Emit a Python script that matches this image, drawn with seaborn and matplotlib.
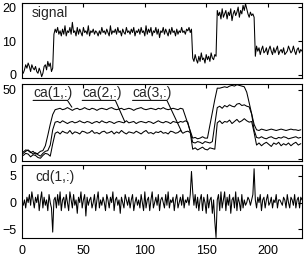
import numpy as np
import seaborn as sns
from matplotlib import pyplot as plt

# signal, one value per sample (samples 1..228)
signal = [
    0.5, 1.5, 3.0, 2.0, 3.5, 2.5, 1.0, 3.0, 2.0, 1.5, 2.5, 1.0, 0.5, 2.0, 1.0, -0.5, 0.5, 2.5, 3.0, 1.5,
    4.0, 2.5, 3.5, 1.0, 2.0,
    12.0, 13.5, 12.5, 14.0, 12.0, 13.0, 11.5, 13.5, 12.0, 14.5,
    11.5, 13.0, 12.5, 14.0, 12.0, 15.5, 12.5, 13.0, 11.5, 14.0,
    12.0, 13.5, 12.5, 11.5, 14.0, 12.5, 13.0, 12.0, 14.5, 11.5,
    13.0, 12.5, 13.5, 12.0, 13.0, 12.5, 11.5, 13.0, 12.0, 14.0,
    12.5, 13.0, 12.0, 13.5, 12.5, 11.5, 14.5, 12.0, 13.0, 12.5,
    13.5, 12.0, 14.0, 12.5, 13.0, 11.5, 13.5, 12.5, 12.0, 14.0,
    12.5, 13.0, 12.0, 13.5, 12.5, 14.0, 11.5, 13.0, 12.5, 13.5,
    12.0, 14.0, 12.5, 13.0, 11.5, 14.5, 12.0, 13.5, 12.5, 14.0,
    11.5, 13.0, 12.5, 14.0, 12.0, 13.5, 11.0, 13.0, 12.5, 14.0,
    12.0, 13.5, 12.5, 11.5, 13.5, 12.0, 14.0, 12.5, 13.0, 11.5,
    13.5, 12.0, 13.0, 12.5, 14.0, 12.5, 13.0, 12.0, 13.5, 13.0,
    14.0, 12.5, 13.5,
    5.0, 4.0, 6.0, 4.5, 3.5, 5.5, 4.0, 6.5, 4.5, 5.0, 3.5, 6.0, 4.5, 5.5, 4.0, 6.5, 5.0, 4.5, 6.0, 5.5,
    19.0, 17.5, 18.5, 16.5, 19.5, 17.0, 18.0, 19.0, 16.5, 18.5, 17.5, 19.5, 16.0, 18.0, 19.0, 17.5,
    18.5, 20.0, 17.0, 19.0, 18.0, 20.5, 19.0, 21.0, 19.5, 18.0, 17.0, 18.5, 17.5, 18.0, 17.0,
    5.5, 8.5, 7.0, 8.0, 6.0, 7.5, 8.5, 6.5, 7.0, 8.0, 6.0, 7.5, 8.5, 7.0, 6.0, 8.0, 6.5, 7.5, 8.5, 6.0,
    7.0, 7.5, 6.5, 8.0, 6.0, 6.5, 7.0, 8.5, 7.5, 6.5, 7.0, 8.5, 7.0, 6.0, 7.5, 8.0, 6.5, 7.5, 7.0,
]

# approximations, read every second sample (samples 1, 3, ..., 227)
ca1 = [
    2.5, 4.0, 3.5, 1.5, 3.0, 2.5, 1.0, 0.5, 2.5, 4.0, 3.5, 2.0,
    10.9,
    18.5, 19.5, 18.0, 20.0, 19.0, 18.5, 20.5, 18.0, 19.5, 19.0,
    18.0, 20.0, 19.5, 18.5, 19.0, 20.5, 18.5, 19.0, 18.0, 19.5,
    20.0, 18.5, 19.0, 20.0, 18.0, 19.5, 18.5, 20.5, 19.0, 18.0,
    19.5, 19.0, 18.5, 20.0, 19.0, 18.0, 19.5, 20.5, 18.5, 19.0,
    18.0, 19.5, 19.0, 20.0, 18.5, 19.0, 18.0, 20.0, 19.5, 18.5,
    19.0, 20.5, 18.5, 19.5, 20.0, 19.0,
    7.0, 8.0, 6.5, 7.5, 8.5, 7.0, 6.5, 8.0, 7.5, 7.0,
    26.0, 27.5, 25.5, 27.0, 26.5, 28.0, 25.5, 27.0, 28.5, 26.5, 27.5, 29.0, 27.5, 26.5, 27.0,
    19.0,
    10.0, 11.5, 9.5, 11.0, 12.0, 10.5, 9.0, 11.5, 10.5, 12.0, 9.5, 11.0, 10.0, 11.5, 9.5, 11.0, 12.0, 10.0, 11.0,
]
ca2 = [
    4.0, 5.5, 6.5, 5.0, 3.5, 4.5, 3.0, 2.0, 4.0, 5.5, 6.0,
    10.0, 21.0,
    26.5, 27.0, 26.0, 27.5, 26.5, 25.5, 26.5, 27.0, 26.0, 26.5,
    27.5, 26.5, 26.0, 27.0, 26.5, 25.5, 26.5, 27.0, 26.0, 27.5,
    26.5, 26.0, 27.0, 26.5, 25.5, 26.5, 27.0, 26.5, 26.0, 27.5,
    26.0, 26.5, 27.0, 25.5, 26.5, 27.0, 26.5, 26.0, 27.0, 26.5,
    25.5, 26.5, 27.5, 26.5, 26.0, 27.0, 26.5, 25.5, 27.0, 26.5,
    26.0, 27.0, 26.5, 27.5, 26.5,
    19.3,
    12.0, 11.5, 12.5, 12.0, 11.0, 12.5, 12.0, 11.5, 12.5,
    25.0,
    37.0, 38.0, 36.5, 38.5, 37.5, 39.0, 38.0, 37.5, 39.5, 40.0, 38.5, 39.0, 38.0, 37.5,
    32.3, 20.8,
    15.5, 15.0, 16.0, 15.0, 14.5, 15.5, 16.0, 15.0, 14.5, 15.5, 15.0, 16.0, 15.5, 14.5, 15.0, 15.5, 16.0, 15.0, 15.5,
]
ca3 = [
    5.0, 6.5, 6.0, 4.5, 5.5, 3.5, 4.0, 5.5, 6.0,
    9.5, 17.0, 25.0, 32.0, 35.5,
    36.0, 36.5, 35.5, 36.0, 37.0, 36.0, 35.0, 36.0, 36.5, 35.5,
    36.0, 37.0, 36.0, 35.5, 36.5, 36.0, 35.0, 36.0, 36.5, 36.0,
    35.5, 36.5, 37.0, 36.0, 35.5, 36.0, 36.5, 35.5, 36.0, 36.5,
    36.0, 35.0, 36.0, 36.5, 37.0, 36.0, 35.5, 36.0, 36.5, 36.0,
    35.5, 36.5, 36.0, 37.0, 36.0, 35.5, 36.0, 36.5, 36.0, 35.5,
    36.5, 36.0,
    30.8, 25.5, 20.3, 15.0,
    15.5, 14.5, 15.0, 16.0, 15.0,
    15.0, 24.3, 33.5, 42.8, 51.0,
    51.0, 51.5, 52.0, 51.5, 52.5, 53.0, 52.5, 53.5, 53.0, 52.5, 52.0,
    48.1, 40.4, 32.6, 24.9,
    21.0, 20.5, 21.5, 21.0, 20.5, 21.0, 21.5, 21.0, 20.5, 21.0, 21.5, 21.0, 20.5, 21.0, 21.5, 21.0, 21.0, 20.5, 21.0,
]

# level 1 detail, one value per sample
cd1 = [
    -0.5, 0.5, -1.0, 1.0, 0.0, 1.5, -0.5, 2.0, 0.5, -1.0, 1.0, 0.0,
    1.5, -1.5, 0.5, 2.0, -1.0, 1.0, -0.5, 0.5, -1.5, 1.5, 0.0, -1.0,
    -5.5, 0.5, 1.0, -1.0, 1.5, -0.5, 2.0, -1.5, 0.5, 1.0, -1.0, 1.5,
    0.0, -1.5, 2.0, 0.5, -1.0, 1.5, -0.5, 0.5, -2.0, 1.0, 0.0, 2.0,
    -1.0, 0.5, 1.5, -2.5, 1.0, -0.5, 0.5, 1.0, -1.0, 0.0, 1.5, -1.5,
    0.5, 2.0, -1.0, 0.5, -0.5, 1.0, 0.0, -1.5, 1.5, 0.5, -1.0, 1.0,
    0.0, 2.0, -1.5, 0.5, 1.0, -0.5, 0.5, -2.0, 1.0, 0.0, -1.0, 1.5,
    0.5, -0.5, 1.0, -1.0, 0.5, 1.5, -1.5, 0.0, 1.0, -0.5, 0.5, -1.0,
    1.5, 0.0, -1.5, 2.0, -1.0, 0.5, 1.0, -1.5, 0.5, 2.0, -1.0, 0.0,
    1.0, -0.5, 1.5, -1.5, 0.5, 1.0, 0.0, -1.0, 1.5, -0.5, 2.0, -1.0,
    0.5, 0.0, 1.0, -1.5, 0.5, 1.5, -1.0, 0.0, 1.0, -0.5, 1.5, -1.0,
    0.5, 0.0, 1.0, -0.5, 1.5, 5.8, 2.0, -0.5, 1.5, -1.0, 1.0, -1.5,
    0.5, 1.5, -1.5, 1.0, 0.0, -2.0, 1.5, -1.0, 0.5, 1.0, -2.0, 0.5,
    -3.5, -6.5, 0.5, 1.5, -1.5, 2.0, -1.0, 0.5, 2.0, -1.5, 1.0, -0.5,
    1.5, -2.0, 0.5, 1.0, -1.0, 2.0, -1.5, 1.0, 0.0, -1.5, 1.5, -1.0,
    0.5, -0.5, 0.0, 1.0, 0.5, -0.5, 0.5, 1.5, 6.3, 0.5, -1.0, 1.0,
    0.0, 1.5, -1.5, 0.5, 1.0, -1.0, 0.5, 1.5, -0.5, 0.0, 1.0, -1.0,
    0.5, 0.0, 1.5, -1.0, 0.5, 0.5, 0.0, -0.5, 1.0, 0.5, -1.0, 1.5,
    0.0, -1.0, 1.0, 0.5, -0.5, 1.5, -1.0, 0.5, 1.0, -1.0, 1.0, 0.5,
]

ca_names = ['ca(1,:)', 'ca(2,:)', 'ca(3,:)']
xticks = [0, 50, 100, 150, 200]

n = np.arange(1, len(signal) + 1)
n2 = np.arange(1, len(signal), 2)

sns.set_style('white')
plt.rcParams['font.family'] = ['Liberation Sans', 'DejaVu Sans']
plt.rcParams['font.size'] = 8.5

fig = plt.figure(figsize=(3.07, 2.57), dpi=100)
ax1 = fig.add_axes([0.0717, 0.6965, 0.912, 0.2918])
ax2 = fig.add_axes([0.0717, 0.3735, 0.912, 0.2996])
ax3 = fig.add_axes([0.0717, 0.0739, 0.912, 0.2840])

lw = 0.75
sns.lineplot(x=n, y=signal, color='k', lw=lw, ax=ax1)
for ca in [ca1, ca2, ca3]:
    sns.lineplot(x=n2, y=ca, color='k', lw=lw, ax=ax2)
sns.lineplot(x=n, y=cd1, color='k', lw=lw, ax=ax3)

ax1.set_ylim(-0.9, 21.2)
ax1.set_yticks([0, 10, 20])
ax2.set_ylim(-1.5, 54)
ax2.set_yticks([0, 50])
ax3.set_ylim(-6.6, 7.0)
ax3.set_yticks([-5, 0, 5])

for ax in [ax1, ax2, ax3]:
    ax.set_xlim(0, 228)
    ax.set_xticks(xticks)
    ax.tick_params(direction='in', top=True, right=True, length=3, width=0.8,
                   pad=4, labelsize=9, colors='k')
    for s in ax.spines.values():
        s.set_linewidth(0.8)
        s.set_color('k')
ax1.set_xticklabels([])
ax2.set_xticklabels([])
ax3.tick_params(axis='x', pad=5)

ax1.text(8, 18.4, 'signal', fontsize=10, va='center', ha='left')
ax3.text(10.5, 4.7, 'cd(1,:)', fontsize=10, va='center', ha='left')

# labels on the approximations: text start, text end, line end
label_pos = [(9, 37, 40.6, 37.3), (49, 76, 83.7, 26.8), (90, 118, 130, 19.6)]
for name, (x0, x1, xe, ye) in zip(ca_names, label_pos):
    ax2.text(x0, 47.5, name, fontsize=10, va='center', ha='left')
    ax2.plot([x0, x1, xe], [42.2, 42.2, ye], color='k', lw=lw)

fig.savefig('out.png', dpi=100)
